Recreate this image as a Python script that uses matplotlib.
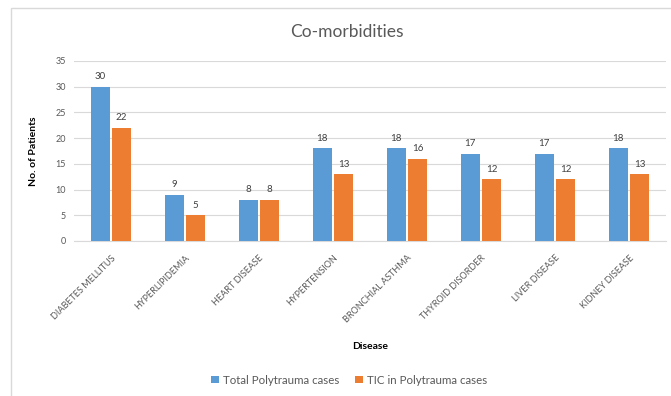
import matplotlib
matplotlib.use("Agg")
import matplotlib.pyplot as plt
import numpy as np
from matplotlib.patches import Rectangle

plt.rcParams['font.family'] = ['Lato', 'DejaVu Sans']

categories = ["DIABETES MELLITUS", "HYPERLIPIDEMIA", "HEART DISEASE", "HYPERTENSION",
              "BRONCHIAL ASTHMA", "THYROID DISORDER", "LIVER DISEASE", "KIDNEY DISEASE"]
total_cases = [30, 9, 8, 18, 18, 17, 17, 18]
tic_cases = [22, 5, 8, 13, 16, 12, 12, 13]
series_names = ["Total Polytrauma cases", "TIC in Polytrauma cases"]
yticks = [0, 5, 10, 15, 20, 25, 30, 35]

blue = "#5B9BD5"
orange = "#ED7D31"

fig = plt.figure(figsize=(6.71, 3.96), dpi=100)
fig.patch.set_facecolor("white")

# outer chart frame
fig.add_artist(Rectangle((11/671, -0.01), 1.0, 1 - 8/396 + 0.01, transform=fig.transFigure,
                         fill=False, edgecolor="#D9D9D9", linewidth=1.0))

ax = fig.add_axes([74/671, 1 - 241/396, (666 - 74)/671, (241 - 61)/396])
x = np.arange(len(categories))
w = 0.25
gap = 0.02
b1 = ax.bar(x - w/2 - gap, total_cases, width=w, color=blue, zorder=3)
b2 = ax.bar(x + w/2 + gap, tic_cases, width=w, color=orange, zorder=3)

for bars in (b1, b2):
    for rect in bars:
        h = rect.get_height()
        ax.annotate(f"{h:g}", (rect.get_x() + rect.get_width()/2, h),
                    xytext=(0, 4), textcoords="offset points",
                    ha="center", va="bottom", fontsize=7, color="#404040")

ax.set_xlim(-0.5, len(categories) - 0.5)
ax.set_ylim(0, 35)
ax.set_yticks(yticks)
ax.yaxis.grid(True, color="#D9D9D9", linewidth=0.8, zorder=0)
ax.set_axisbelow(True)
for s in ["top", "right", "left"]:
    ax.spines[s].set_visible(False)
ax.spines["bottom"].set_color("#D9D9D9")
ax.tick_params(axis="both", length=0, labelsize=6.5, colors="#595959")
ax.tick_params(axis="y", pad=6)
ax.set_xticks(x)
ax.set_xticklabels(categories, rotation=45, ha="right", rotation_mode="anchor",
                   fontsize=6.5, color="#595959")
ax.tick_params(axis="x", pad=9)

ax.set_ylabel("No. of Patients", fontsize=7.5, fontweight="bold", color="#000000")
ax.yaxis.set_label_coords(-(74 - 38)/(666 - 74), 0.5)
ax.set_xlabel("Disease", fontsize=7.5, fontweight="bold", color="#000000")
ax.xaxis.set_label_coords((370 - 74)/(666 - 74), -(342 - 241)/(241 - 61))

fig.text(347/671, 1 - 32/396, "Co-morbidities", ha="center", va="center",
         fontsize=12.5, color="#595959")

leg = fig.legend([b1, b2], series_names, loc="center", bbox_to_anchor=(349/671, 1 - 380/396),
                 ncol=2, frameon=False, fontsize=8.3, handlelength=0.65, handleheight=0.65,
                 columnspacing=1.4, handletextpad=0.35)
for t in leg.get_texts():
    t.set_color("#595959")

fig.savefig("out.png", dpi=100)
